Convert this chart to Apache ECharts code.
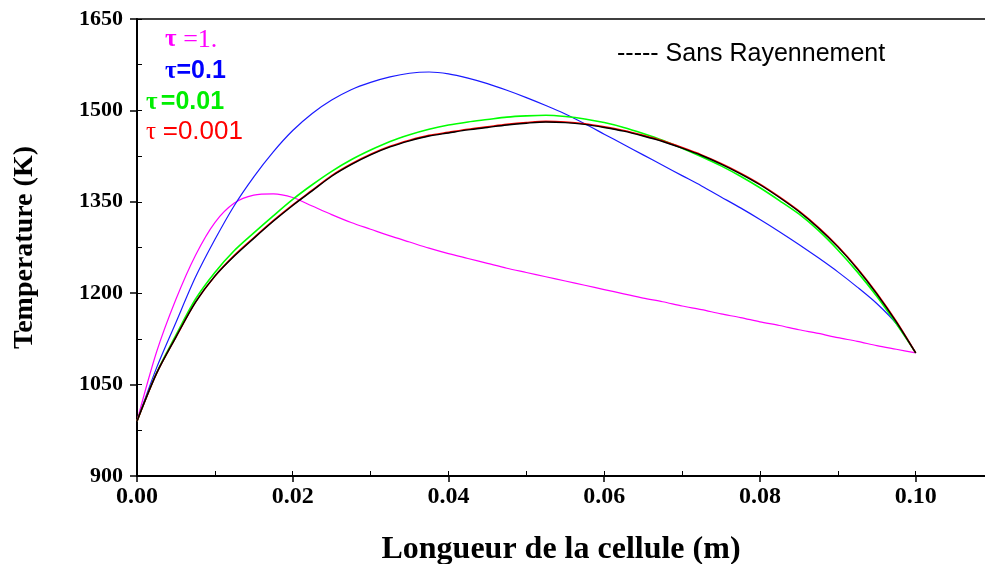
<!DOCTYPE html>
<html>
<head>
<meta charset="utf-8">
<script src="https://cdn.jsdelivr.net/npm/echarts@6/dist/echarts.min.js"></script>
<style>
html,body{margin:0;padding:0;background:#fff;}
#c{width:985px;height:564px;}
</style>
</head>
<body>
<div id="c"></div>
<script>
// Position along the cell (m), step 0.0025
const xs = [0, 0.0025, 0.005, 0.0075, 0.01, 0.0125, 0.015, 0.0175, 0.02, 0.0225,
            0.025, 0.0275, 0.03, 0.0325, 0.035, 0.0375, 0.04, 0.0425, 0.045, 0.0475,
            0.05, 0.0525, 0.055, 0.0575, 0.06, 0.0625, 0.065, 0.0675, 0.07, 0.0725,
            0.075, 0.0775, 0.08, 0.0825, 0.085, 0.0875, 0.09, 0.0925, 0.095, 0.0975, 0.1];
// Temperature (K) for each case
const tau1    = [990, 1103, 1190, 1262, 1316, 1348, 1361, 1363, 1357, 1343,
                 1329, 1316, 1305, 1294, 1284, 1274, 1265, 1257, 1249, 1241,
                 1234, 1227, 1220, 1213, 1206, 1199, 1192, 1186, 1179, 1173,
                 1166, 1160, 1153, 1147, 1140, 1134, 1127, 1121, 1114, 1108, 1102];
const tau01   = [990, 1077, 1152, 1226, 1288, 1344, 1391, 1432, 1467, 1495,
                 1517, 1534, 1546, 1555, 1561, 1563, 1560, 1553, 1544, 1533,
                 1521, 1508, 1494, 1478, 1461, 1444, 1427, 1410, 1393, 1376,
                 1358, 1340, 1321, 1301, 1280, 1258, 1235, 1210, 1183, 1150, 1102];
const tau001  = [990, 1069, 1131, 1190, 1234, 1270, 1299, 1327, 1354, 1378,
                 1400, 1419, 1435, 1449, 1460, 1469, 1476, 1481, 1485, 1489,
                 1491, 1492, 1490, 1486, 1480, 1472, 1462, 1451, 1438, 1424,
                 1409, 1392, 1373, 1352, 1330, 1303, 1271, 1235, 1195, 1150, 1102];
const tau0001 = [990, 1068, 1128, 1185, 1228, 1262, 1291, 1319, 1345, 1369,
                 1393, 1412, 1428, 1441, 1451, 1459, 1464, 1469, 1473, 1477,
                 1480, 1482, 1481, 1478, 1473, 1467, 1459, 1450, 1439, 1427,
                 1413, 1397, 1379, 1358, 1335, 1308, 1277, 1241, 1200, 1154, 1102];
const sansRay = [990, 1068, 1128, 1185, 1228, 1261, 1290, 1318, 1344, 1368,
                 1392, 1411, 1427, 1440, 1450, 1458, 1463, 1468, 1472, 1476,
                 1479, 1481, 1480, 1477, 1472, 1466, 1458, 1449, 1438, 1426,
                 1412, 1396, 1378, 1357, 1334, 1307, 1276, 1240, 1199, 1153, 1102];
// Axis ticks
const xTicks = [0, 0.02, 0.04, 0.06, 0.08, 0.10];
const yTicks = [900, 1050, 1200, 1350, 1500, 1650];
// Legend labels
const legendTau = ['1.', '0.1', '0.01', '0.001'];
const legendRef = 'Sans Rayennement';

const pairs = arr => xs.map((x, i) => [x, arr[i]]);
const serif = 'Liberation Serif, Times New Roman, serif';
const sans = 'Liberation Sans, Arial, sans-serif';
const XMAX = 0.1089;

const chart = echarts.init(document.getElementById('c'), null, {renderer: 'canvas'});

const mk = (name, data, color, width, z) => ({
  name, type: 'line', data: pairs(data), xAxisIndex: 0, yAxisIndex: 0,
  smooth: 0.3, showSymbol: false, symbol: 'none',
  lineStyle: {color, width}, z, animation: false
});

chart.setOption({
  animation: false,
  backgroundColor: '#fff',
  grid: {left: 137, top: 19, right: 0, bottom: 88, show: false, outerBoundsMode: 'none', containLabel: false},
  xAxis: [{
    type: 'value', min: xTicks[0], max: XMAX, interval: 0.02,
    position: 'bottom',
    axisLine: {show: true, onZero: false, lineStyle: {color: '#000', width: 2}},
    axisTick: {show: true, inside: false, length: 6, lineStyle: {color: '#000', width: 1.5}},
    minorTick: {show: false},
    splitLine: {show: false},
    axisLabel: {
      show: true, margin: 9, color: '#000', fontFamily: serif, fontWeight: 'bold', fontSize: 24,
      showMaxLabel: false,
      formatter: v => xTicks.some(t => Math.abs(t - v) < 1e-9) ? v.toFixed(2) : ''
    },
    name: 'Longueur de la cellule (m)', nameLocation: 'middle', nameGap: 58,
    nameTextStyle: {color: '#000', fontFamily: serif, fontWeight: 'bold', fontSize: 32}
  }, {
    type: 'value', min: 0, max: XMAX, interval: 0.01, position: 'bottom',
    axisLine: {show: false}, axisLabel: {show: false}, splitLine: {show: false},
    axisTick: {show: true, inside: true, length: 5, lineStyle: {color: '#000', width: 1}}
  }, {
    type: 'value', min: 0, max: XMAX, position: 'top',
    axisLine: {show: true, lineStyle: {color: '#000', width: 1.5}},
    axisLabel: {show: false}, axisTick: {show: false}, splitLine: {show: false}
  }],
  yAxis: [{
    type: 'value', min: yTicks[0], max: yTicks[yTicks.length - 1], interval: 150,
    position: 'left',
    axisLine: {show: true, onZero: false, lineStyle: {color: '#000', width: 2}},
    axisTick: {show: true, inside: false, length: 7, lineStyle: {color: '#000', width: 1.5}},
    splitLine: {show: false},
    axisLabel: {margin: 14, color: '#000', fontFamily: serif, fontWeight: 'bold', fontSize: 22,
      formatter: v => String(v)},
    name: 'Temperature (K)', nameLocation: 'middle', nameGap: 98, nameRotate: 90,
    nameTextStyle: {color: '#000', fontFamily: serif, fontWeight: 'bold', fontSize: 28}
  }, {
    type: 'value', min: 900, max: 1650, interval: 75, position: 'left',
    axisLine: {show: false}, axisLabel: {show: false}, splitLine: {show: false},
    axisTick: {show: true, inside: true, length: 5, lineStyle: {color: '#000', width: 1}}
  }],
  graphic: [
    {type: 'text', left: 165, top: 27, style: {rich: {t: {fontFamily: serif, fontWeight: 'bold', fontSize: 25, fill: '#ff00ff'}, v: {fontFamily: serif, fontSize: 26, fill: '#ff00ff'}}, text: '{t|τ}  {v|=' + legendTau[0] + '}'}},
    {type: 'text', left: 165, top: 59, style: {rich: {t: {fontFamily: serif, fontWeight: 'bold', fontSize: 25, fill: '#0000ff'}, v: {fontFamily: sans, fontWeight: 'bold', fontSize: 25, fill: '#0000ff'}}, text: '{t|τ}{v|=' + legendTau[1] + '}'}},
    {type: 'text', left: 146, top: 90, style: {rich: {t: {fontFamily: serif, fontWeight: 'bold', fontSize: 25, fill: '#00ee00'}, v: {fontFamily: sans, fontWeight: 'bold', fontSize: 25, fill: '#00ee00'}}, text: '{t|τ} {v|=' + legendTau[2] + '}'}},
    {type: 'text', left: 146, top: 119, style: {rich: {t: {fontFamily: serif, fontSize: 25, fill: '#ff0000'}, v: {fontFamily: sans, fontSize: 26, fill: '#ff0000'}}, text: '{t|τ}  {v|=' + legendTau[3] + '}'}},
    {type: 'text', left: 617, top: 42, style: {text: '----- ' + legendRef, fontFamily: sans, fontSize: 25, fill: '#000'}}
  ],
  series: [
    mk('τ =1.', tau1, '#ff00ff', 1.2, 2),
    mk('τ=0.1', tau01, '#1a1aff', 1.2, 3),
    mk('τ =0.01', tau001, '#00ff00', 1.6, 4),
    mk('τ =0.001', tau0001, '#ff0000', 1.6, 5),
    mk('Sans Rayennement', sansRay, '#000000', 1.4, 6)
  ]
});
</script>
</body>
</html>
